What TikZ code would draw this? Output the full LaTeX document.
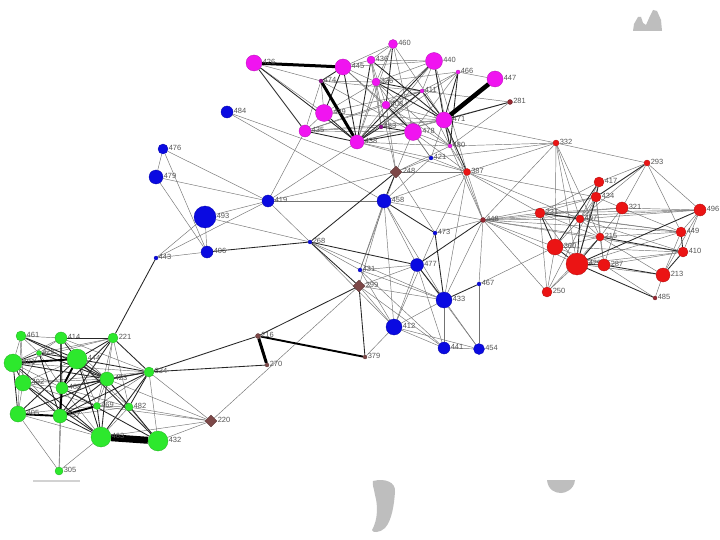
\documentclass[tikz,border=0pt]{standalone}
\usepackage{fontspec}
\setmainfont{Liberation Sans}
\usetikzlibrary{backgrounds,shapes.geometric}
\definecolor{mag}{RGB}{240,20,240}
\definecolor{blu}{RGB}{10,10,225}
\definecolor{rd}{RGB}{235,20,20}
\definecolor{grn}{RGB}{45,232,45}
\definecolor{brn}{RGB}{125,72,72}
\definecolor{dkr}{RGB}{150,40,50}
\definecolor{lblc}{RGB}{85,85,85}
\definecolor{blob}{RGB}{190,190,190}
\tikzset{
  vtx/.style={circle, inner sep=0pt, fill=#1, draw=#1!75!black, line width=0.3pt},
  lbl/.style={font=\fontsize{7.5}{8}\selectfont, text=lblc, inner sep=0.4pt, yshift=1.2pt},
  ethin/.style={draw=black!55, line width=0.45pt},
  emed/.style={draw=black!85, line width=0.85pt},
  ethick/.style={draw=black, line width=1.9pt},
  ethkA/.style={draw=black, line width=3pt},
  ethkB/.style={draw=black, line width=4.5pt},
  ethkC/.style={draw=black, line width=7pt},
}
\newcommand\mkv[5]{\node[vtx=#5, minimum size=#4pt, label={[lbl]east:#1}] (v#1) at (#2,#3) {};}
\newcommand\mkd[4]{\node[diamond, inner sep=0pt, minimum size=#4pt, fill=brn, draw=brn!70!black, line width=0.3pt, label={[lbl]east:#1}] (v#1) at (#2,#3) {};}
\begin{document}
\begin{tikzpicture}[x=1pt,y=-1pt]
\useasboundingbox (0,0) rectangle (720,540);
% magenta
\mkv{426}{254}{63}{16}{mag}
\mkv{445}{343}{67}{16}{mag}
\mkv{436}{371}{60}{8}{mag}
\mkv{460}{393}{44}{9}{mag}
\mkv{440}{434}{61}{17}{mag}
\mkv{466}{458}{72}{4}{mag}
\mkv{447}{495}{79}{16}{mag}
\mkv{474}{321}{81}{4}{mag!60!black}
\mkv{326}{376}{82}{8}{mag}
\mkv{411}{422}{91}{4}{mag}
\mkv{408}{386}{105}{8}{mag}
\mkv{439}{324}{113}{17}{mag}
\mkv{471}{444}{120}{16}{mag}
\mkv{435}{305}{131}{12}{mag}
\mkv{483}{381}{127}{4}{mag!60!black}
\mkv{478}{413}{132}{17}{mag}
\mkv{438}{357}{142}{14}{mag}
\mkv{480}{450}{146}{4}{mag}
\mkv{281}{510}{102}{5}{dkr}
% blue
\mkv{484}{227}{112}{12}{blu}
\mkv{476}{163}{149}{10}{blu}
\mkv{479}{156}{177}{14}{blu}
\mkv{419}{268}{201}{12}{blu}
\mkv{493}{205}{217}{22}{blu}
\mkv{406}{207}{252}{12}{blu}
\mkv{443}{156}{258}{4}{blu}
\mkv{458}{384}{201}{14}{blu}
\mkv{473}{435}{233}{4}{blu}
\mkv{268}{310}{242}{4}{blu}
\mkv{477}{417}{265}{13}{blu}
\mkv{431}{360}{270}{4}{blu}
\mkv{467}{479}{284}{4}{blu}
\mkv{433}{444}{300}{16}{blu}
\mkv{412}{394}{327}{16}{blu}
\mkv{441}{444}{348}{12}{blu}
\mkv{454}{479}{349}{11}{blu}
\mkv{421}{431}{158}{4}{blu}
% brown
\mkd{248}{396}{172}{12}
\mkd{299}{359}{286}{12}
\mkd{220}{211}{421}{12}
\mkv{216}{258}{336}{5}{brn}
\mkv{270}{267}{365}{4}{brn}
\mkv{379}{365}{357}{4}{brn}
% red
\mkv{387}{467}{172}{7}{rd}
\mkv{332}{556}{143}{6}{rd}
\mkv{448}{483}{220}{5}{dkr}
\mkv{293}{647}{163}{6}{rd}
\mkv{417}{599}{182}{10}{rd}
\mkv{434}{596}{197}{10}{rd}
\mkv{321}{622}{208}{12}{rd}
\mkv{496}{700}{210}{12}{rd}
\mkv{231}{540}{213}{10}{rd}
\mkv{407}{580}{219}{8}{rd}
\mkv{215}{600}{237}{8}{rd}
\mkv{449}{681}{232}{10}{rd}
\mkv{360}{555}{247}{16}{rd}
\mkv{410}{683}{252}{10}{rd}
\mkv{429}{577}{264}{22}{rd}
\mkv{287}{604}{265}{12}{rd}
\mkv{213}{663}{275}{14}{rd}
\mkv{250}{547}{292}{10}{rd}
\mkv{485}{655}{298}{4}{dkr}
% green
\mkv{461}{21}{336}{10}{grn}
\mkv{414}{61}{338}{12}{grn}
\mkv{221}{113}{338}{10}{grn}
\mkv{481}{13}{363}{18}{grn}
\mkv{422}{39}{353}{5}{grn}
\mkv{444}{77}{359}{20}{grn}
\mkv{334}{149}{372}{10}{grn}
\mkv{492}{23}{383}{16}{grn}
\mkv{423}{107}{379}{14}{grn}
\mkv{468}{62}{388}{12}{grn}
\mkv{405}{18}{414}{16}{grn}
\mkv{437}{60}{416}{14}{grn}
\mkv{469}{97}{406}{7}{grn}
\mkv{482}{129}{407}{8}{grn}
\mkv{463}{101}{437}{20}{grn}
\mkv{432}{158}{441}{20}{grn}
\mkv{305}{59}{471}{8}{grn}
\begin{pgfonlayer}{background}
\fill[white] (0,0) rectangle (720,540);
% grey blobs
\fill[blob] (633,31) -- (634,24) -- (638,17) -- (641,17) -- (643,23) -- (646,25) -- (650,16) -- (653,10) -- (657,11) -- (661,20) -- (662,31) -- cycle;
\fill[blob] (373,481) .. controls (385,478) and (396,482) .. (395,492) .. controls (394,505) and (392,520) .. (385,528) .. controls (380,533) and (372,533) .. (372,530) .. controls (378,520) and (378,505) .. (375,495) .. controls (374,488) and (372,485) .. (373,481) -- cycle;
\fill[blob] (547,480) -- (575,480) .. controls (574,490) and (565,493) .. (561,493) .. controls (555,493) and (548,490) .. (547,480) -- cycle;
\draw[blob!70, line width=1.5pt] (33,481) -- (80,481);
% thin edges
\foreach \a/\b in {426/474,426/439,445/436,445/326,445/440,445/408,445/478,436/326,436/408,436/440,436/483,460/436,460/326,460/438,460/471,460/445,460/478,440/326,440/411,440/480,440/408,440/483,466/411,466/438,466/447,466/326,466/478,281/411,281/480,281/438,474/435,474/439,474/326,474/411,474/478,326/438,326/480,326/483,326/439,411/483,411/435,411/408,411/480,408/438,408/471,408/480,408/435,439/471,439/411,435/471,435/439,435/478,435/483,438/471,438/480,483/471,478/480,478/421,480/387,421/387,421/438,421/471,421/326,248/326,248/408,248/480,248/478,248/421,387/440,387/438,387/478,332/471,332/480,332/421,471/448,480/448,
476/479,476/419,476/406,479/419,479/406,493/419,493/406,493/268,443/419,443/493,443/406,419/268,419/458,419/248,419/438,419/435,484/458,484/248,268/431,268/412,268/433,458/431,458/299,458/387,458/448,458/477,458/421,458/412,431/477,431/433,431/412,431/441,299/477,299/433,299/412,299/441,220/299,477/441,477/412,433/441,433/454,433/412,412/441,412/454,441/454,467/448,467/454,467/360,379/412,473/448,387/448,387/248,387/473,387/433,332/387,332/448,248/473,248/431,473/412,448/433,458/433,477/454,
293/332,332/429,332/407,332/360,332/215,293/417,293/407,293/321,293/449,293/496,417/407,417/429,417/231,434/407,434/215,434/321,434/287,434/231,321/496,321/215,321/287,321/231,321/449,496/449,496/410,496/213,496/231,496/407,231/407,231/429,231/250,231/215,231/449,407/215,407/360,407/449,407/410,215/287,215/449,215/213,215/360,449/213,449/429,410/287,410/360,410/429,360/250,429/213,429/250,287/485,213/485,250/215,250/434,360/287,448/231,448/407,448/215,448/360,448/429,448/250,448/449,448/410,448/496,448/321,448/434,387/231,387/407,387/434,
461/414,461/481,461/422,461/492,461/405,414/422,414/481,414/423,414/334,221/423,221/422,221/481,221/482,221/469,481/468,481/437,422/468,422/492,444/469,444/492,444/482,492/468,492/405,492/423,492/469,423/469,423/482,468/463,468/469,468/482,405/463,405/305,405/469,437/482,437/305,469/482,469/334,482/463,482/432,463/305,432/334,334/220,482/220,463/220,423/220,469/220,432/220,334/492,334/481,305/468}
  \draw[ethin] (v\a) -- (v\b);
% medium edges
\foreach \a/\b in {216/299,334/216,334/270,299/379,268/299,268/477,268/248,406/268,443/221,458/473,473/433,477/433,448/477,248/458,433/467,438/483,438/478,426/438,426/435,440/471,326/471,411/438,436/438,281/471,466/471,326/411,445/439,445/438,439/438,435/438,436/471,440/438,460/408,408/478,483/478,411/471,466/480,387/471,480/471,474/445,
417/434,434/429,407/429,407/231,215/429,429/287,429/485,360/429,449/410,410/213,287/213,496/429,231/360,293/434,215/410,417/360,
414/444,221/334,423/334,444/334,221/444,444/463,423/463,437/463,481/422,414/221,463/334,469/463,482/334,492/437,481/492,422/444,481/405,461/444,414/468,414/437,221/468,221/437,481/423,481/463,422/437,422/423,444/405,492/463,468/423,468/334,405/423,437/423,437/334,423/432,444/432,468/432,461/423,444/423,444/468}
  \draw[emed] (v\a) -- (v\b);
\foreach \a/\b in {216/379,444/468,468/437,481/444,405/437,437/469}
  \draw[ethick] (v\a) -- (v\b);
\draw[ethkA] (v216) -- (v270);
\draw[ethkA] (v426) -- (v445);
\draw[ethkA] (v474) -- (v438);
\draw[ethkB] (v447) -- (v471);
\draw[ethkC] (v463) -- (v432);
\end{pgfonlayer}
\end{tikzpicture}
\end{document}
